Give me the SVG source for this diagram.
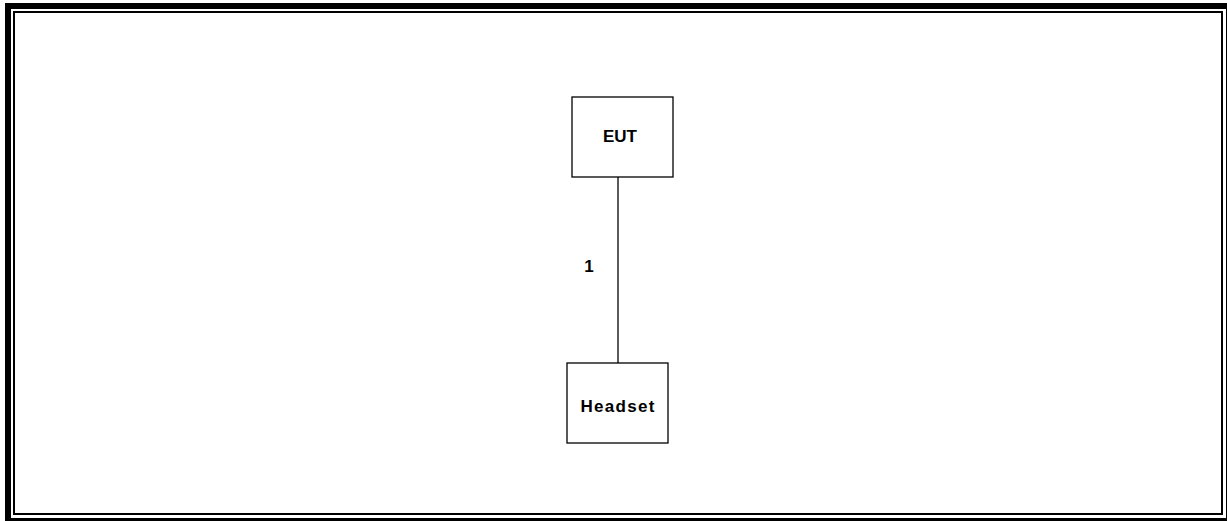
<svg xmlns="http://www.w3.org/2000/svg" width="1227" height="521" viewBox="0 0 1227 521">
  <style>
    .box { fill: #ffffff; stroke: #000000; stroke-width: 1.3; }
    .lbl { font-family: "Liberation Sans", Arial, sans-serif; font-weight: bold; font-size: 17px; fill: #000000; text-anchor: middle; }
    .wire { stroke: #000000; stroke-width: 1.3; fill: none; }
  </style>
  <rect width="1227" height="521" fill="#ffffff"/>
  <!-- double frame -->
  <rect x="8" y="6" width="1221" height="515" fill="none" stroke="#000000" stroke-width="6"/>
  <rect x="14" y="12" width="1208" height="502" fill="none" stroke="#000000" stroke-width="2"/>
  <g id="connectors">
    <line class="wire" x1="618" y1="177" x2="618" y2="363"/>
    <text class="lbl" x="589" y="272" font-size="18">1</text>
  </g>
  <g id="eut">
    <rect class="box" x="572" y="97" width="101" height="80"/>
    <text class="lbl" x="620" y="142" font-size="17.5">EUT</text>
  </g>
  <g id="headset">
    <rect class="box" x="567" y="363" width="101" height="80"/>
    <text class="lbl" x="618" y="412" font-size="18" letter-spacing="1.3">Headset</text>
  </g>
</svg>
